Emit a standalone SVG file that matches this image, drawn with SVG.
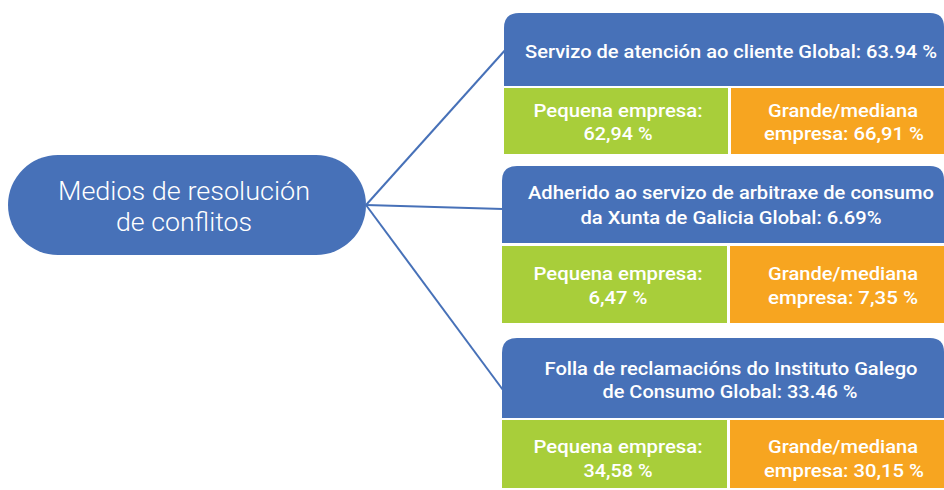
<svg xmlns="http://www.w3.org/2000/svg" width="944" height="490" viewBox="0 0 944 490">
<style>
.blue{fill:#4771b8}
.green{fill:#a8ce3a}
.orange{fill:#f7a520}
.t{font-family:Roboto,"Liberation Sans",sans-serif;font-weight:500;font-size:19px;fill:#ffffff;text-anchor:middle}
.c{font-family:Roboto,"Liberation Sans",sans-serif;font-weight:300;font-size:25px;fill:#ffffff;text-anchor:middle}
.conn{stroke:#4771b8;stroke-width:2;fill:none}
</style>
<rect width="944" height="490" fill="#ffffff"/>
<g id="connectors">
<line class="conn" x1="366" y1="205" x2="507" y2="48"/>
<line class="conn" x1="366" y1="205" x2="503" y2="209"/>
<line class="conn" x1="366" y1="205" x2="503" y2="390"/>
</g>
<g id="root">
<rect class="blue" x="8" y="155" width="358" height="100" rx="50" ry="50"/>
<text class="c" x="184" y="200" textLength="252" lengthAdjust="spacingAndGlyphs">Medios de resolución</text>
<text class="c" x="184" y="231" textLength="136" lengthAdjust="spacingAndGlyphs">de conflitos</text>
</g>
<g id="n1">
<path class="blue" d="M504,86 V28 Q504,13 519,13 H930 Q944,13 944,27 V86 Z"/>
<text class="t" x="731" y="58" textLength="412" lengthAdjust="spacingAndGlyphs">Servizo de atención ao cliente Global: 63.94 %</text>
</g>
<g id="n1a">
<rect class="green" x="504" y="88" width="224" height="66"/>
<text class="t" x="618" y="117" textLength="169" lengthAdjust="spacingAndGlyphs">Pequena empresa:</text>
<text class="t" x="618" y="140" textLength="69" lengthAdjust="spacingAndGlyphs">62,94 %</text>
</g>
<g id="n1b">
<rect class="orange" x="731" y="88" width="213" height="66"/>
<text class="t" x="843" y="117" textLength="150" lengthAdjust="spacingAndGlyphs">Grande/mediana</text>
<text class="t" x="844" y="140" textLength="160" lengthAdjust="spacingAndGlyphs">empresa: 66,91 %</text>
</g>
<g id="n2">
<path class="blue" d="M502,243 V181 Q502,166 517,166 H930 Q944,166 944,180 V243 Z"/>
<text class="t" x="731" y="199" textLength="406" lengthAdjust="spacingAndGlyphs">Adherido ao servizo de arbitraxe de consumo</text>
<text class="t" x="731" y="224" textLength="301" lengthAdjust="spacingAndGlyphs">da Xunta de Galicia Global: 6.69%</text>
</g>
<g id="n2a">
<rect class="green" x="502" y="246" width="225" height="77"/>
<text class="t" x="618" y="280" textLength="169" lengthAdjust="spacingAndGlyphs">Pequena empresa:</text>
<text class="t" x="618" y="304" textLength="59" lengthAdjust="spacingAndGlyphs">6,47 %</text>
</g>
<g id="n2b">
<rect class="orange" x="730" y="246" width="214" height="77"/>
<text class="t" x="843" y="280" textLength="150" lengthAdjust="spacingAndGlyphs">Grande/mediana</text>
<text class="t" x="843" y="304" textLength="150" lengthAdjust="spacingAndGlyphs">empresa: 7,35 %</text>
</g>
<g id="n3">
<path class="blue" d="M502,418 V353 Q502,338 517,338 H930 Q944,338 944,352 V418 Z"/>
<text class="t" x="731" y="375" textLength="373" lengthAdjust="spacingAndGlyphs">Folla de reclamacións do Instituto Galego</text>
<text class="t" x="730" y="398" textLength="255" lengthAdjust="spacingAndGlyphs">de Consumo Global: 33.46 %</text>
</g>
<g id="n3a">
<rect class="green" x="502" y="420" width="225" height="68"/>
<text class="t" x="618" y="453" textLength="169" lengthAdjust="spacingAndGlyphs">Pequena empresa:</text>
<text class="t" x="618" y="477" textLength="69" lengthAdjust="spacingAndGlyphs">34,58 %</text>
</g>
<g id="n3b">
<rect class="orange" x="730" y="420" width="214" height="68"/>
<text class="t" x="843" y="453" textLength="150" lengthAdjust="spacingAndGlyphs">Grande/mediana</text>
<text class="t" x="844" y="477" textLength="160" lengthAdjust="spacingAndGlyphs">empresa: 30,15 %</text>
</g>
</svg>
